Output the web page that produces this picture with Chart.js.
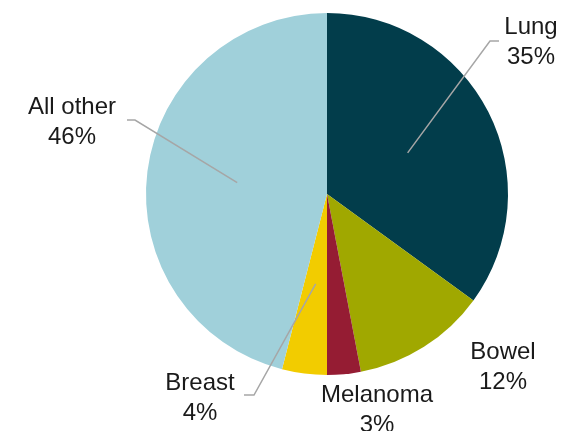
<!DOCTYPE html>
<html>
<head>
<meta charset="utf-8">
<script src="https://cdn.jsdelivr.net/npm/chart.js@4/dist/chart.umd.min.js"></script>
<style>
  html, body { margin: 0; padding: 0; background: #ffffff; }
  #wrap { width: 564px; height: 431px; position: relative; }
</style>
</head>
<body>
<div id="wrap"><canvas id="c" width="564" height="431"></canvas></div>
<script>
// ---- Data ----
const categories = ["Lung", "Bowel", "Melanoma", "Breast", "All other"];
const shares = [35, 12, 3, 4, 46];
const sliceColors = ["#023D4B", "#A0A800", "#951C33", "#F2CC00", "#A0D0DA"];

// ---- Label annotation layout (text anchor + leader line elbow/end) ----
const labelLayout = [
  { text: [330, 34], lineTo: [[490, 41], [499, 41]], cx: 531 },   // Lung
  { text: [0, 359], lineTo: null, cx: 503 },                      // Bowel
  { text: [0, 402], lineTo: null, cx: 377 },                      // Melanoma
  { text: [0, 390], lineTo: [[254, 395], [244, 395]], cx: 200 },  // Breast
  { text: [0, 114], lineTo: [[135, 120], [127, 120]], cx: 72 }    // All other
];

const labelPlugin = {
  id: 'pieLabels',
  afterDatasetsDraw(chart) {
    const ctx = chart.ctx;
    const meta = chart.getDatasetMeta(0);
    ctx.save();
    meta.data.forEach((arc, i) => {
      const lay = labelLayout[i];
      const p = arc.getProps(['x', 'y', 'startAngle', 'endAngle', 'outerRadius'], true);
      const mid = (p.startAngle + p.endAngle) / 2;
      const r = p.outerRadius * 0.5;
      const sx = p.x + Math.cos(mid) * r;
      const sy = p.y + Math.sin(mid) * r;
      if (lay.lineTo) {
        ctx.beginPath();
        ctx.strokeStyle = '#A6A6A6';
        ctx.lineWidth = 1.5;
        ctx.moveTo(sx, sy);
        lay.lineTo.forEach(pt => ctx.lineTo(pt[0], pt[1]));
        ctx.stroke();
      }
      ctx.fillStyle = '#1A1A1A';
      ctx.font = '24px "Liberation Sans", Arial, sans-serif';
      ctx.textAlign = 'center';
      ctx.textBaseline = 'alphabetic';
      ctx.fillText(categories[i], lay.cx, lay.text[1]);
      ctx.fillText(shares[i] + '%', lay.cx, lay.text[1] + 29.5);
    });
    ctx.restore();
  }
};

new Chart(document.getElementById('c'), {
  type: 'pie',
  data: {
    labels: categories,
    datasets: [{
      data: shares,
      backgroundColor: sliceColors,
      borderWidth: 0
    }]
  },
  options: {
    responsive: false,
    animation: false,
    layout: { padding: { left: 146, right: 56, top: 13, bottom: 56 } },
    plugins: {
      legend: { display: false },
      tooltip: { enabled: false }
    }
  },
  plugins: [labelPlugin]
});
</script>
</body>
</html>
